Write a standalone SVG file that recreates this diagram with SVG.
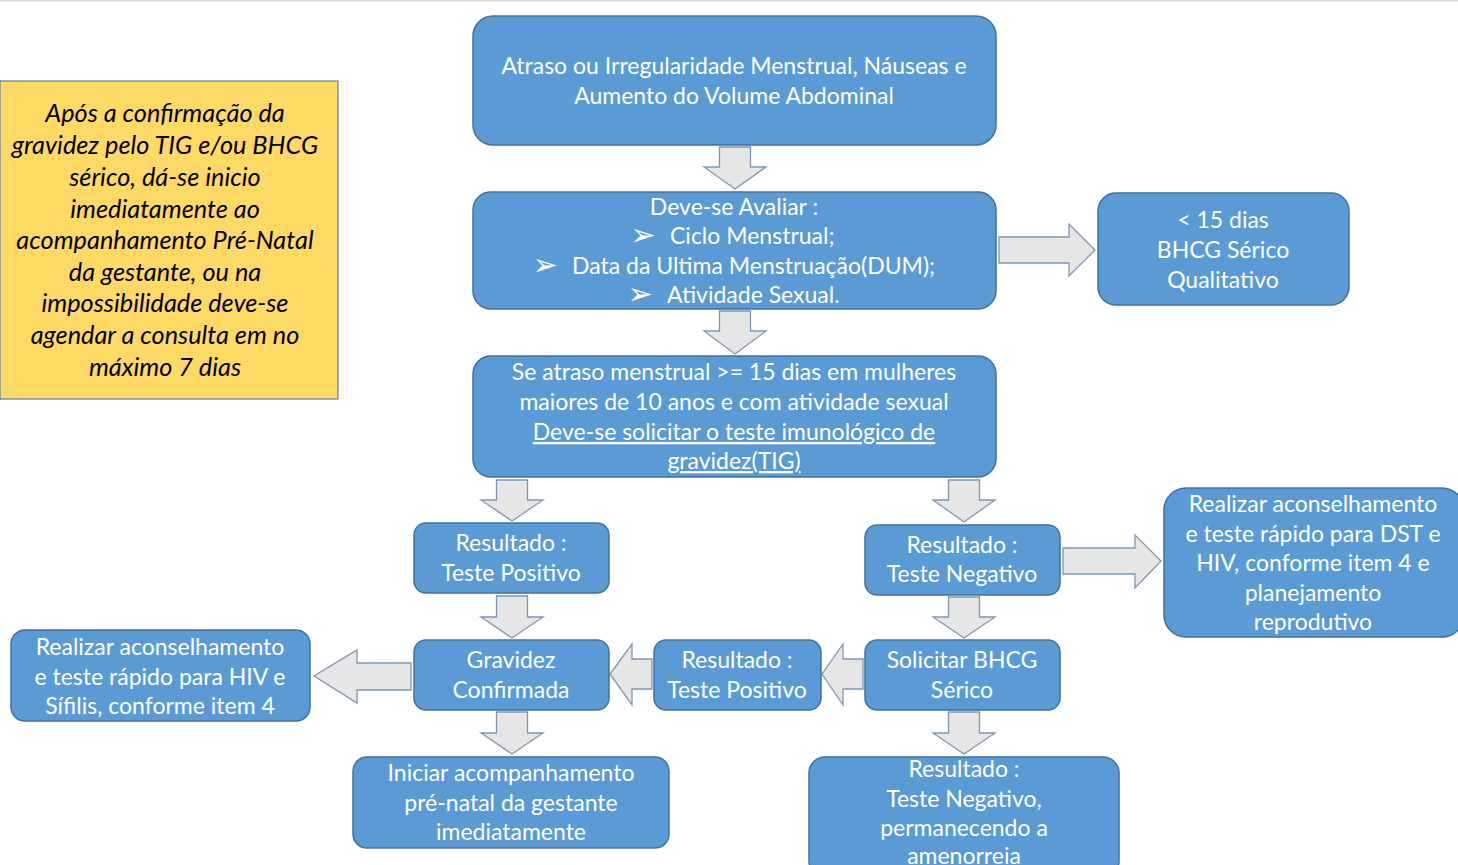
<svg xmlns="http://www.w3.org/2000/svg" width="1458" height="865" viewBox="0 0 1458 865">
<style>
.box{fill:#5B9BD5;stroke:#41719C;stroke-width:1.5}
.arr{fill:#E7E6E6;stroke:#7F96B2;stroke-width:1.3;stroke-linejoin:miter}
.t{font-family:Lato,"Open Sans","Liberation Sans",sans-serif;font-size:23px;fill:#FFFFFF;text-anchor:middle}
.s{text-anchor:start}
.b{font-family:"DejaVu Sans",sans-serif;font-size:30px;fill:#FFFFFF;text-anchor:middle}
.note{font-family:Lato,"Open Sans","Liberation Sans",sans-serif;font-size:25.3px;font-style:italic;fill:#000000;text-anchor:middle}
.u{text-decoration:underline}
</style>
<rect x="0" y="0" width="1458" height="865" fill="#FFFFFF"/>
<rect x="0" y="0" width="1458" height="1.5" fill="#D9D9D9"/>

<g id="note">
<rect x="0" y="81" width="338" height="318" fill="#FFD966" stroke="#5A7FA8" stroke-width="1.2"/>
<text class="note"><tspan x="165" y="122">Após a confirmação da</tspan><tspan x="165" y="154">gravidez pelo TIG e/ou BHCG</tspan><tspan x="165" y="186">sérico, dá-se inicio</tspan><tspan x="165" y="218">imediatamente ao</tspan><tspan x="165" y="249">acompanhamento Pré-Natal</tspan><tspan x="165" y="281">da gestante, ou na</tspan><tspan x="165" y="312">impossibilidade deve-se</tspan><tspan x="165" y="344">agendar a consulta em no</tspan><tspan x="165" y="376">máximo 7 dias</tspan></text>
</g>

<g id="connectors">
<path class="arr" d="M719.5 147 H750.5 V167 H766 L735 189 L704 167 H719.5 Z"/>
<path class="arr" d="M719.5 311 H750.5 V331 H766 L735 354 L704 331 H719.5 Z"/>
<path class="arr" d="M496.5 480 H527.5 V500 H543 L512 521 L481 500 H496.5 Z"/>
<path class="arr" d="M948.5 480 H979.5 V500 H995 L964 522 L933 500 H948.5 Z"/>
<path class="arr" d="M496.5 596 H527.5 V617 H543 L512 638 L481 617 H496.5 Z"/>
<path class="arr" d="M948.5 597 H979.5 V617 H995 L964 638 L933 617 H948.5 Z"/>
<path class="arr" d="M496.5 712 H527.5 V733 H543 L512 754 L481 733 H496.5 Z"/>
<path class="arr" d="M948.5 712 H979.5 V733 H995 L964 754 L933 733 H948.5 Z"/>
<path class="arr" d="M999 237 H1069 V224 L1095 250 L1069 276 V263 H999 Z"/>
<path class="arr" d="M1063 548 H1135 V535 L1161 561 L1135 588 V574 H1063 Z"/>
<path class="arr" d="M411 663 H357 V650 L314 676 L357 703 V690 H411 Z"/>
<path class="arr" d="M652 659 H632 V644 L610 674 L632 705 V689 H652 Z"/>
<path class="arr" d="M863 659 H843 V644 L822 674 L843 705 V689 H863 Z"/>
</g>

<g id="n1">
<rect class="box" x="473" y="16" width="523" height="129" rx="20"/>
<text class="t"><tspan x="734" y="74">Atraso ou Irregularidade Menstrual, Náuseas e</tspan><tspan x="734" y="104">Aumento do Volume Abdominal</tspan></text>
</g>
<g id="n2">
<rect class="box" x="473" y="192" width="523" height="117" rx="18"/>
<text class="t" x="734" y="215">Deve-se Avaliar :</text>
<text class="b" x="643" y="245">➢</text>
<text class="t s" x="670" y="244">Ciclo Menstrual;</text>
<text class="b" x="545" y="275">➢</text>
<text class="t s" x="572" y="274">Data da Ultima Menstruação(DUM);</text>
<text class="b" x="640" y="304">➢</text>
<text class="t s" x="667" y="303">Atividade Sexual.</text>
</g>
<g id="n3">
<rect class="box" x="1098" y="193" width="251" height="112" rx="18"/>
<text class="t"><tspan x="1223" y="228">&lt; 15 dias</tspan><tspan x="1223" y="258">BHCG Sérico</tspan><tspan x="1223" y="288">Qualitativo</tspan></text>
</g>
<g id="n4">
<rect class="box" x="473" y="356" width="523" height="121" rx="18"/>
<text class="t"><tspan x="734" y="380">Se atraso menstrual &gt;= 15 dias em mulheres</tspan><tspan x="734" y="410">maiores de 10 anos e com atividade sexual</tspan><tspan x="734" y="440" class="u">Deve-se solicitar o teste imunológico de</tspan><tspan x="734" y="469" class="u">gravidez(TIG)</tspan></text>
</g>
<g id="n5">
<rect class="box" x="414" y="523" width="195" height="70" rx="12"/>
<text class="t"><tspan x="511" y="551">Resultado :</tspan><tspan x="511" y="581">Teste Positivo</tspan></text>
</g>
<g id="n6">
<rect class="box" x="865" y="525" width="195" height="70" rx="12"/>
<text class="t"><tspan x="962" y="553">Resultado :</tspan><tspan x="962" y="582">Teste Negativo</tspan></text>
</g>
<g id="n7">
<rect class="box" x="1164" y="488" width="300" height="149" rx="22"/>
<text class="t"><tspan x="1313" y="512">Realizar aconselhamento</tspan><tspan x="1313" y="542">e teste rápido para DST e</tspan><tspan x="1313" y="571">HIV, conforme item 4 e</tspan><tspan x="1313" y="601">planejamento</tspan><tspan x="1313" y="630">reprodutivo</tspan></text>
</g>
<g id="n8">
<rect class="box" x="11" y="630" width="299" height="91" rx="14"/>
<text class="t"><tspan x="160" y="655">Realizar aconselhamento</tspan><tspan x="160" y="685">e teste rápido para HIV e</tspan><tspan x="160" y="714">Sífilis, conforme item 4</tspan></text>
</g>
<g id="n9">
<rect class="box" x="414" y="640" width="195" height="70" rx="12"/>
<text class="t"><tspan x="511" y="668">Gravidez</tspan><tspan x="511" y="698">Confirmada</tspan></text>
</g>
<g id="n10">
<rect class="box" x="654" y="640" width="167" height="70" rx="12"/>
<text class="t"><tspan x="737" y="668">Resultado :</tspan><tspan x="737" y="698">Teste Positivo</tspan></text>
</g>
<g id="n11">
<rect class="box" x="865" y="640" width="195" height="70" rx="12"/>
<text class="t"><tspan x="962" y="668">Solicitar BHCG</tspan><tspan x="962" y="698">Sérico</tspan></text>
</g>
<g id="n12">
<rect class="box" x="353" y="757" width="316" height="91" rx="14"/>
<text class="t"><tspan x="511" y="781">Iniciar acompanhamento</tspan><tspan x="511" y="811">pré-natal da gestante</tspan><tspan x="511" y="840">imediatamente</tspan></text>
</g>
<g id="n13">
<rect class="box" x="809" y="757" width="310" height="120" rx="16"/>
<text class="t"><tspan x="964" y="777">Resultado :</tspan><tspan x="964" y="807">Teste Negativo,</tspan><tspan x="964" y="836">permanecendo a</tspan><tspan x="964" y="864">amenorreia</tspan></text>
</g>
</svg>
